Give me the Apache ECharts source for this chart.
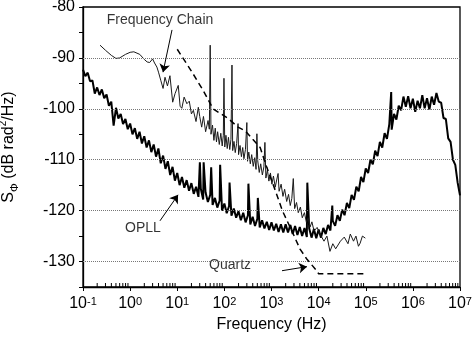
<!DOCTYPE html>
<html>
<head>
<meta charset="utf-8">
<script src="https://cdn.jsdelivr.net/npm/echarts@6/dist/echarts.min.js"></script>
<style>
  html, body { margin: 0; padding: 0; background: #fff; }
  #chart { width: 472px; height: 342px; }
</style>
</head>
<body>
<div id="chart"></div>
<script>
'use strict';
/* phase noise spectra: frequency chain, OPLL, quartz */

// frequency chain (Hz, dB rad2/Hz)
var chainFreq = [0.23, 0.3, 0.4, 0.5, 0.6, 0.8, 1.0, 1.2, 1.6, 2.0, 2.3, 2.6, 3.0, 3.3, 3.7, 4.0, 4.5, 5.0, 5.5, 6.2,
  7.0, 8.0, 9.0, 10.5, 11.5, 12.5, 14, 16, 18, 20, 22, 25, 28, 30, 33, 36, 40, 45, 48, 50,
  52, 56, 60, 64, 68, 72, 78, 84, 90, 95, 98, 102, 108, 115, 122, 130, 138, 145, 150, 160,
  170, 182, 195, 200, 215, 230, 245, 260, 280, 300, 310, 330, 355, 380, 410, 440, 470, 490, 510, 550,
  590, 640, 690, 725, 760, 820, 880, 950, 1020, 1100, 1200, 1300, 1380, 1450, 1600, 1750, 1900, 2100, 2300, 2500,
  2700, 2900, 3100, 3400, 3700, 4100, 4500, 5000, 5500, 6000, 6600, 7200, 8000, 9300, 11000, 13000, 15000, 17400, 20000, 23000,
  29000, 35000, 42000, 47000, 55000, 62000, 70000, 76000, 85000, 98000];
var chainDb = [-87.5, -88.5, -89.5, -90.1, -90.0, -89.3, -88.9, -88.8, -89.3, -90.3, -90.8, -90.9, -90.2, -91.0, -91.8, -92.8, -94.5, -96.0, -93.8, -95.5,
  -93.5, -98.7, -97.0, -95.4, -99.5, -99.9, -97.7, -99.0, -98.5, -101.0, -100.3, -102.5, -99.7, -101.5, -103.6, -101.5, -104.5, -102.3, -104.0, -87.5,
  -105.0, -103.2, -106.2, -103.8, -106.5, -104.5, -107.0, -104.8, -107.3, -105.2, -94.0, -107.5, -105.2, -107.8, -105.6, -108.0, -106.0, -91.4, -108.2, -106.4,
  -108.6, -106.8, -102.9, -109.0, -107.2, -109.4, -107.6, -109.8, -108.0, -102.7, -110.3, -108.5, -110.8, -109.0, -111.3, -109.6, -111.9, -104.9, -110.2, -112.5,
  -110.8, -113.0, -111.4, -106.6, -113.6, -112.0, -114.2, -112.6, -114.8, -113.2, -115.4, -113.8, -112.7, -116.2, -114.8, -117.2, -115.8, -118.2, -116.8, -119.0,
  -117.6, -113.7, -119.6, -118.4, -120.4, -119.3, -121.4, -120.4, -122.3, -121.4, -123.2, -122.2, -124.0, -123.3, -124.8, -126.0, -125.0, -128.0, -126.5, -127.5,
  -126.0, -125.2, -126.5, -124.6, -126.0, -125.0, -127.0, -126.4, -125.0, -125.4];

// OPLL (log10 of Hz, dB rad2/Hz)
var opllLogF = [-1.00, -0.95, -0.90, -0.85, -0.80, -0.75, -0.70, -0.65, -0.60, -0.55, -0.50, -0.45, -0.40, -0.35, -0.30, -0.25, -0.20, -0.15, -0.10, -0.05,
  0.00, 0.05, 0.10, 0.15, 0.20, 0.25, 0.30, 0.35, 0.40, 0.45, 0.50, 0.55, 0.60, 0.65, 0.70, 0.75, 0.80, 0.85, 0.90, 0.95,
  1.00, 1.05, 1.10, 1.15, 1.20, 1.25, 1.30, 1.35, 1.40, 1.45, 1.48, 1.50, 1.55, 1.56, 1.60, 1.65, 1.70, 1.72, 1.75, 1.80,
  1.85, 1.90, 1.91, 1.95, 2.00, 2.05, 2.10, 2.11, 2.15, 2.20, 2.25, 2.30, 2.35, 2.40, 2.45, 2.50, 2.51, 2.55, 2.60, 2.65,
  2.70, 2.71, 2.75, 2.80, 2.85, 2.90, 2.95, 3.00, 3.05, 3.10, 3.15, 3.20, 3.25, 3.30, 3.35, 3.40, 3.45, 3.50, 3.55, 3.60,
  3.65, 3.70, 3.75, 3.76, 3.80, 3.85, 3.90, 3.95, 4.00, 4.05, 4.10, 4.15, 4.20, 4.25, 4.29, 4.30, 4.35, 4.40, 4.45, 4.50,
  4.55, 4.60, 4.65, 4.70, 4.75, 4.80, 4.85, 4.90, 4.95, 5.00, 5.05, 5.10, 5.15, 5.20, 5.25, 5.30, 5.35, 5.40, 5.45, 5.50,
  5.54, 5.55, 5.60, 5.65, 5.70, 5.75, 5.80, 5.85, 5.90, 5.95, 6.00, 6.05, 6.10, 6.15, 6.20, 6.25, 6.30, 6.35, 6.40, 6.45,
  6.50, 6.55, 6.60, 6.65, 6.70, 6.75, 6.80, 6.85, 6.90, 6.95, 7.00];
var opllDb = [-92.3, -93.6, -92.9, -94.6, -94.4, -97.0, -95.8, -97.3, -96.2, -97.9, -97.2, -99.4, -98.6, -103.3, -99.8, -101.9, -101.0, -103.0, -102.0, -104.0,
  -102.9, -105.0, -103.8, -105.9, -104.5, -106.8, -105.4, -107.6, -106.2, -108.5, -107.0, -109.4, -107.8, -110.7, -109.2, -111.8, -110.3, -113.0, -111.4, -114.1,
  -112.6, -115.0, -113.4, -115.5, -114.0, -116.1, -114.6, -116.7, -115.3, -117.3, -110.5, -115.7, -117.8, -110.5, -116.4, -118.3, -116.9, -111.5, -118.9, -117.5,
  -119.4, -118.0, -111.0, -120.0, -118.6, -120.5, -119.1, -114.5, -121.0, -119.6, -121.4, -120.1, -121.9, -120.4, -122.3, -120.9, -114.7, -122.7, -121.2, -123.0,
  -121.6, -117.5, -123.3, -121.9, -123.5, -122.2, -123.8, -122.3, -123.9, -122.6, -124.2, -122.7, -124.3, -122.7, -124.3, -122.8, -124.6, -123.0, -124.8, -123.2,
  -125.0, -123.4, -125.2, -114.5, -123.5, -125.3, -123.6, -125.4, -123.7, -125.3, -123.4, -124.6, -122.8, -123.9, -119.0, -122.0, -123.0, -120.9, -122.0, -119.8,
  -120.9, -118.5, -119.5, -116.9, -117.9, -115.3, -116.2, -113.4, -114.4, -111.7, -112.6, -110.0, -110.9, -108.2, -109.3, -106.5, -107.6, -104.8, -105.9, -103.0,
  -96.7, -104.1, -101.0, -102.1, -99.4, -100.3, -97.6, -99.6, -97.5, -99.9, -98.0, -100.6, -98.4, -99.9, -97.3, -99.9, -97.9, -100.2, -97.6, -99.2,
  -96.9, -98.6, -98.8, -101.8, -102.0, -105.8, -106.5, -110.0, -111.0, -114.5, -117.0];

// quartz (Hz, dB rad2/Hz)
var quartzFreq = [10, 20, 35.5, 57.5, 120, 195, 275, 400, 575, 795, 1200, 1700, 2900, 4000, 5600, 9300, 10000, 100000];
var quartzDb = [-88.3, -92.6, -96.4, -100.0, -101.9, -103.6, -104.3, -106.0, -107.6, -111.5, -116.0, -120.0, -124.6, -127.5, -129.5, -131.9, -132.4, -132.4];

var gridLevels = [-90, -100, -110, -120, -130];
var decades = [-1, 0, 1, 2, 3, 4, 5, 6];

// annotations: text, anchor [Hz, dB]; arrows: from, to
var noteTexts = ['Frequency Chain', 'OPLL', 'Quartz'];
var notePos = [[4.3, -82.6], [1.87, -123.4], [132, -130.8]];
var arrowFrom = [[7.74, -84.5], [4.3, -122.0], [1671, -131.8]];
var arrowTo = [[4.99, -92.8], [10.4, -116.9], [5660, -131.0]];

function zip(xs, ys) {
  var out = [];
  for (var i = 0; i < xs.length; i++) out.push([xs[i], ys[i]]);
  return out;
}

var opllData = [];
for (var i = 0; i < opllLogF.length; i++) opllData.push([Math.pow(10, opllLogF[i]), opllDb[i]]);

// minor ticks at 2..9 x 10^n on the frequency axis
var minorTicks = [];
decades.forEach(function(d) {
  for (var k = 2; k <= 9; k++) minorTicks.push([k * Math.pow(10, d), -135]);
});

var chart = echarts.init(document.getElementById('chart'), null, { renderer: 'canvas' });

var baseFont = 'Liberation Sans, Arial, sans-serif';

var option = {
  animation: false,
  backgroundColor: '#fff',
  grid: {
    left: 83, right: 12, top: 7, bottom: 55,
    containLabel: false, outerBoundsMode: 'none',
    show: true, borderColor: '#000', borderWidth: 1.3, backgroundColor: 'transparent'
  },
  xAxis: {
    type: 'log', logBase: 10, min: 0.1, max: 1e7, splitNumber: 8,
    name: 'Frequency (Hz)', nameLocation: 'middle', nameGap: 28,
    nameTextStyle: { fontFamily: baseFont, fontSize: 16, color: '#000' },
    axisLine: { lineStyle: { color: '#000', width: 1.3 } },
    axisTick: { inside: false, length: 4, lineStyle: { color: '#000' } },
    splitLine: { show: false },
    axisLabel: {
      margin: 9, color: '#000', fontFamily: baseFont, fontSize: 16,
      formatter: function(v) {
        var e = Math.round(Math.log(v) / Math.LN10);
        return '10{sup|' + e + '}';
      },
      rich: { sup: { fontSize: 11, verticalAlign: 'top', fontFamily: baseFont, color: '#000' } }
    }
  },
  yAxis: {
    type: 'value', min: -135, max: -80, interval: 5,
    name: 'S{sub|Φ} (dB rad{sup|2}/Hz)', nameLocation: 'middle', nameGap: 63, nameRotate: 90,
    nameTextStyle: {
      fontFamily: baseFont, fontSize: 16, color: '#000', lineHeight: 22,
      rich: {
        sub: { fontSize: 11, verticalAlign: 'bottom', fontFamily: baseFont, color: '#000', lineHeight: 22 },
        sup: { fontSize: 10, verticalAlign: 'top', fontFamily: baseFont, color: '#000', lineHeight: 22 }
      }
    },
    axisLine: { show: true, lineStyle: { color: '#000', width: 1.3 } },
    axisTick: { show: true, inside: false, length: 4, lineStyle: { color: '#000' } },
    splitLine: { show: false },
    axisLabel: {
      margin: 8, color: '#000', fontFamily: baseFont, fontSize: 16,
      formatter: function(v) { return v % 10 === 0 ? String(v) : ''; }
    }
  },
  series: [
    {
      name: 'grid', type: 'line', data: [], silent: true,
      markLine: {
        silent: true, symbol: ['none', 'none'], label: { show: false },
        lineStyle: { color: '#777', type: 'dotted', width: 1 },
        data: gridLevels.map(function(v) { return { yAxis: v }; })
      }
    },
    {
      name: 'OPLL', type: 'line', data: opllData, showSymbol: false, smooth: false,
      lineStyle: { color: '#000', width: 2 }, z: 3
    },
    {
      name: 'Frequency Chain', type: 'line', data: zip(chainFreq, chainDb), showSymbol: false,
      lineStyle: { color: '#1a1a1a', width: 1 }, z: 4
    },
    {
      name: 'Quartz', type: 'line', data: zip(quartzFreq, quartzDb), showSymbol: false,
      lineStyle: { color: '#000', width: 1.5, type: [6, 4] }, z: 5,
      markLine: {
        silent: true, symbol: ['none', 'arrow'], symbolSize: 8,
        label: { show: false },
        lineStyle: { color: '#000', type: 'solid', width: 1 },
        data: arrowFrom.map(function(p, i) { return [{ coord: p }, { coord: arrowTo[i] }]; })
      }
    },
    {
      name: 'notes', type: 'scatter', symbolSize: 0, silent: true,
      data: notePos.map(function(p, i) { return [p[0], p[1], noteTexts[i]]; }),
      label: {
        show: true, position: 'inside', color: '#000', fontFamily: baseFont, fontSize: 14,
        formatter: function(p) { return p.value[2]; }
      }
    },
    {
      name: 'minorTicks', type: 'custom', silent: true, data: minorTicks,
      renderItem: function(params, api) {
        var p = api.coord([api.value(0), api.value(1)]);
        return {
          type: 'line',
          shape: { x1: p[0], y1: p[1], x2: p[0], y2: p[1] - 4 },
          style: { stroke: '#000', lineWidth: 1 }
        };
      }
    }
  ]
};

chart.setOption(option);
</script>
</body>
</html>
